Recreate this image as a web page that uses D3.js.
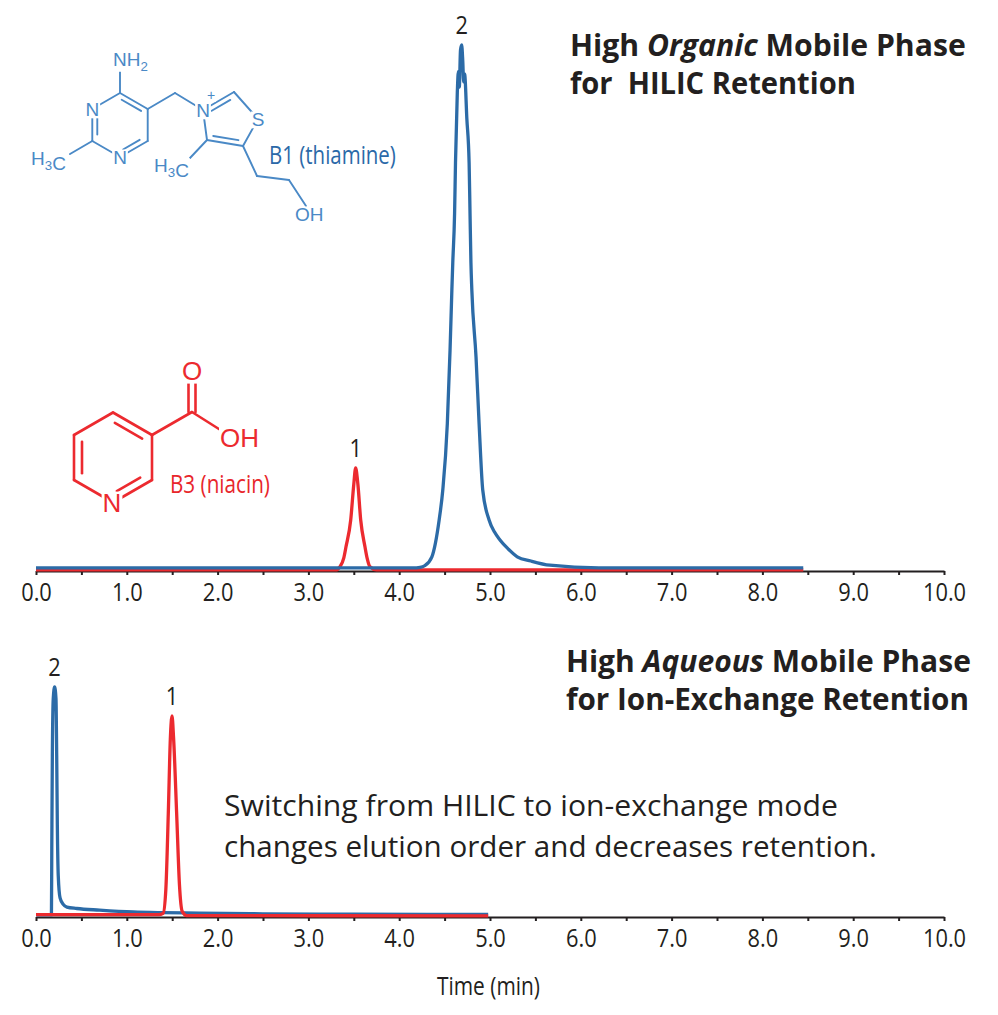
<!DOCTYPE html>
<html>
<head>
<meta charset="utf-8">
<script src="https://cdn.jsdelivr.net/npm/d3@7"></script>
<style>
  body { margin: 0; background: #fff; }
  svg { display: block; font-family: 'Open Sans', sans-serif; }
  .pre { white-space: pre; }
  .atom { font-family: 'Liberation Sans', Arial, sans-serif; }
</style>
</head>
<body>
<script>
// time axis
const halfTicks = [0, 0.5, 1, 1.5, 2, 2.5, 3, 3.5, 4, 4.5, 5, 5.5, 6, 6.5, 7, 7.5, 8, 8.5, 9, 9.5, 10];
const tickLabels = ['0.0', '1.0', '2.0', '3.0', '4.0', '5.0', '6.0', '7.0', '8.0', '9.0', '10.0'];

// high organic run: [time (min), signal (% of tallest peak)]
const organicB1 = [
  [0.00, 0.6], [4.15, 0.6], [4.23, 0.7], [4.28, 1.0], [4.36, 2.7], [4.44, 9.7], [4.48, 15.4],
  [4.53, 28], [4.56, 42], [4.58, 53.4], [4.59, 58.6], [4.61, 68], [4.62, 77.6], [4.64, 91],
  [4.652, 95], [4.662, 92], [4.675, 99], [4.688, 100], [4.70, 97], [4.71, 93], [4.72, 94.5],
  [4.745, 86], [4.77, 77.6], [4.78, 68], [4.79, 58.6], [4.80, 53.4], [4.846, 40.7], [4.88, 28],
  [4.92, 15.4], [4.99, 9.7], [5.05, 7.4], [5.11, 5.9], [5.20, 4.2], [5.30, 2.7], [5.45, 1.9],
  [5.66, 1.1], [6.20, 0.6], [8.45, 0.6]
];
const organicB3 = [
  [0.00, 0.2], [3.30, 0.2], [3.348, 0.8], [3.39, 2.5], [3.414, 4.6], [3.466, 9.7], [3.50, 16.5],
  [3.52, 19.6], [3.545, 16.5], [3.576, 9.7], [3.623, 4.6], [3.65, 2.2], [3.678, 0.8], [3.75, 0.2],
  [8.45, 0.2]
];

// high aqueous run
const aqueousB1 = [
  [0.00, 0.9], [0.170, 0.9], [0.174, 30], [0.18, 70], [0.19, 95], [0.205, 100], [0.22, 95],
  [0.228, 70], [0.235, 40], [0.245, 18], [0.265, 8.3], [0.30, 5.5], [0.34, 4.3], [0.45, 3.7],
  [0.70, 3.0], [1.07, 2.2], [1.40, 1.9], [1.80, 1.7], [2.50, 1.4], [3.50, 1.2], [4.98, 1.1]
];
const aqueousB3 = [
  [0.00, 1.0], [1.35, 1.0], [1.40, 1.6], [1.43, 12], [1.457, 45], [1.48, 78], [1.498, 87.4],
  [1.515, 78], [1.549, 45], [1.58, 14], [1.61, 2.5], [1.66, 0.6], [4.98, 0.5]
];

const peakNames = { b3: '1', b1: '2' };

const blue = '#2c6ba7';
const red = '#ec2a2f';
const ink = '#231f20';
const sx = 0.84;

const width = 998;
const height = 1015;

const svg = d3.select('body').append('svg')
  .attr('width', width)
  .attr('height', height);

const x = d3.scaleLinear().domain([0, 10]).range([36, 944]);

const fitText = (sel, px, py, w) => {
  const len = sel.node().getComputedTextLength();
  sel.attr('transform', `translate(${px},${py}) scale(${w / len},1)`);
};

const drawPanel = (b1, b3, base, top, b1OnTop) => {
  const y = d3.scaleLinear().domain([0, 100]).range([base, top]);
  const g = svg.append('g');

  const axis = d3.axisBottom(x)
    .tickValues(halfTicks)
    .tickSize(4)
    .tickSizeOuter(0)
    .tickPadding(8)
    .tickFormat(d => Number.isInteger(d) ? tickLabels[d] : '');

  const ax = g.append('g')
    .attr('transform', `translate(0,${base})`)
    .call(axis);
  ax.select('.domain').attr('stroke', ink).attr('stroke-width', 2);
  ax.selectAll('.tick line').attr('stroke', ink).attr('stroke-width', 2);
  ax.selectAll('.tick text')
    .attr('fill', ink)
    .attr('font-size', 26)
    .attr('font-family', 'Open Sans, sans-serif')
    .attr('transform', `scale(${sx},1)`);

  const line = d3.line()
    .x(d => x(d[0]))
    .y(d => y(d[1]))
    .curve(d3.curveMonotoneX);

  const series = [
    { key: 'b3', data: b3, color: red },
    { key: 'b1', data: b1, color: blue }
  ];
  if (!b1OnTop) series.reverse();

  g.selectAll('path.trace')
    .data(series)
    .join('path')
      .attr('class', 'trace')
      .attr('d', d => line(d.data))
      .attr('fill', 'none')
      .attr('stroke', d => d.color)
      .attr('stroke-width', 3.3)
      .attr('stroke-linejoin', 'round');

  series.forEach(s => {
    const peak = d3.greatest(s.data, d => d[1]);
    g.append('text')
      .attr('text-anchor', 'middle')
      .attr('font-size', 26)
      .attr('fill', ink)
      .attr('transform', `translate(${x(peak[0])},${y(peak[1]) - 11}) scale(${sx},1)`)
      .text(peakNames[s.key]);
  });
};

const titleBlock = (lines, px, baselines, widths) => {
  lines.forEach((parts, i) => {
    const t = svg.append('text')
      .attr('class', 'pre')
      .attr('font-size', 30)
      .attr('font-weight', 700)
      .attr('fill', ink);
    parts.forEach(p => {
      t.append('tspan')
        .attr('font-style', p.italic ? 'italic' : 'normal')
        .text(p.text);
    });
    fitText(t, px, baselines[i], widths[i]);
  });
};

const render = () => {
  drawPanel(organicB1, organicB3, 571, 45, true);
  drawPanel(aqueousB1, aqueousB3, 917, 687, false);

  titleBlock(
    [[{ text: 'High ' }, { text: 'Organic', italic: true }, { text: ' Mobile Phase' }],
     [{ text: 'for  HILIC Retention' }]],
    570, [56, 94], [396, 286]
  );
  titleBlock(
    [[{ text: 'High ' }, { text: 'Aqueous', italic: true }, { text: ' Mobile Phase' }],
     [{ text: 'for Ion-Exchange Retention' }]],
    566, [672, 710], [405, 403]
  );

  const note = ['Switching from HILIC to ion-exchange mode', 'changes elution order and decreases retention.'];
  const noteW = [614, 653];
  note.forEach((s, i) => {
    const t = svg.append('text')
      .attr('font-size', 30)
      .attr('fill', ink)
      .text(s);
    fitText(t, 224, [816, 857][i], noteW[i]);
  });

  const xl = svg.append('text')
    .attr('font-size', 26)
    .attr('fill', ink)
    .text('Time (min)');
  fitText(xl, 437, 995, 103);

  drawThiamine();
  drawNiacin();
};

// ---------- structures ----------
const bond = (g, a, b, color, w) => {
  g.append('line')
    .attr('x1', a[0]).attr('y1', a[1]).attr('x2', b[0]).attr('y2', b[1])
    .attr('stroke', color).attr('stroke-width', w).attr('stroke-linecap', 'round');
};

const innerBond = (g, a, b, c, off, shrink, color, w) => {
  const dx = b[0] - a[0], dy = b[1] - a[1];
  const len = Math.hypot(dx, dy);
  let nx = -dy / len, ny = dx / len;
  const mx = (a[0] + b[0]) / 2, my = (a[1] + b[1]) / 2;
  if ((c[0] - mx) * nx + (c[1] - my) * ny < 0) { nx = -nx; ny = -ny; }
  const p = [a[0] + dx * shrink + nx * off, a[1] + dy * shrink + ny * off];
  const q = [b[0] - dx * shrink + nx * off, b[1] - dy * shrink + ny * off];
  bond(g, p, q, color, w);
};

const label = (g, px, py, parts, size, color, anchor) => {
  const t = g.append('text')
    .attr('class', 'atom')
    .attr('x', px).attr('y', py)
    .attr('font-size', size)
    .attr('fill', color)
    .attr('text-anchor', anchor || 'middle');
  parts.forEach(p => {
    if (p.sub) {
      t.append('tspan').attr('font-size', size * 0.7).attr('dy', size * 0.25).text(p.sub);
      t.append('tspan').attr('dy', -size * 0.25).text('');
    } else if (p.sup) {
      t.append('tspan').attr('font-size', size * 0.7).attr('dy', -size * 0.45).text(p.sup);
      t.append('tspan').attr('dy', size * 0.45).text('');
    } else {
      t.append('tspan').text(p.t);
    }
  });
  const bb = t.node().getBBox();
  g.insert('rect', () => t.node())
    .attr('x', bb.x - 1).attr('y', bb.y + bb.height * 0.12)
    .attr('width', bb.width + 2).attr('height', bb.height * 0.8)
    .attr('fill', '#fff');
  return t;
};

const drawThiamine = () => {
  const c = '#4a89c6';
  const w = 1.9;
  const g = svg.append('g');
  const cx = 120, cy = 125, r = 32, h = r * Math.sqrt(3) / 2;
  const v = [[cx, cy - r], [cx + h, cy - r / 2], [cx + h, cy + r / 2], [cx, cy + r], [cx - h, cy + r / 2], [cx - h, cy - r / 2]];
  for (let i = 0; i < 6; i++) bond(g, v[i], v[(i + 1) % 6], c, w);
  innerBond(g, v[5], v[4], [cx, cy], 5, 0.2, c, w);
  innerBond(g, v[0], v[1], [cx, cy], 5, 0.15, c, w);
  innerBond(g, v[2], v[3], [cx, cy], 5, 0.2, c, w);
  bond(g, v[0], [cx, 68], c, w);
  bond(g, v[4], [70, 154], c, w);
  const ch2 = [175, 93];
  const nP = [203, 110], c2 = [234, 92], s = [258, 119], c5 = [243, 146], c4 = [207, 140];
  bond(g, v[1], ch2, c, w);
  bond(g, ch2, nP, c, w);
  const ring = [nP, c2, s, c5, c4];
  const rc = [229, 121];
  for (let i = 0; i < 5; i++) bond(g, ring[i], ring[(i + 1) % 5], c, w);
  innerBond(g, nP, c2, rc, 5, 0.2, c, w);
  innerBond(g, c4, c5, rc, 5, 0.15, c, w);
  bond(g, c4, [190, 158], c, w);
  bond(g, c5, [257, 176], c, w);
  bond(g, [257, 176], [289, 180], c, w);
  bond(g, [289, 180], [306, 206], c, w);

  label(g, v[5][0], v[5][1] + 7, [{ t: 'N' }], 19, c);
  label(g, v[3][0], v[3][1] + 7, [{ t: 'N' }], 19, c);
  label(g, 113, 66, [{ t: 'NH' }, { sub: '2' }], 19, c, 'start');
  label(g, 31, 165, [{ t: 'H' }, { sub: '3' }, { t: 'C' }], 19, c, 'start');
  label(g, nP[0], nP[1] + 7, [{ t: 'N' }], 19, c);
  label(g, nP[0] + 8, nP[1] - 10, [{ t: '+' }], 14, c);
  label(g, s[0], s[1] + 7, [{ t: 'S' }], 19, c);
  label(g, 154, 172, [{ t: 'H' }, { sub: '3' }, { t: 'C' }], 19, c, 'start');
  label(g, 295, 221, [{ t: 'OH' }], 19, c, 'start');

  const name = svg.append('text')
    .attr('font-size', 26)
    .attr('fill', '#2b69a8')
    .text('B1 (thiamine)');
  fitText(name, 269, 164, 127);
};

const drawNiacin = () => {
  const c = red;
  const w = 2.6;
  const g = svg.append('g');
  const cx = 113, cy = 457.5, r = 45, h = 39;
  const v = [[cx, cy - r], [cx + h, cy - r / 2], [cx + h, cy + r / 2], [cx, cy + r], [cx - h, cy + r / 2], [cx - h, cy - r / 2]];
  for (let i = 0; i < 6; i++) bond(g, v[i], v[(i + 1) % 6], c, w);
  innerBond(g, v[0], v[1], [cx, cy], 8, 0.15, c, w);
  innerBond(g, v[5], v[4], [cx, cy], 8, 0.15, c, w);
  innerBond(g, v[2], v[3], [cx, cy], 8, 0.2, c, w);
  const cc = [192, 412];
  bond(g, v[1], cc, c, w);
  bond(g, [cc[0] - 3.5, cc[1]], [cc[0] - 3.5, 380], c, w);
  bond(g, [cc[0] + 3.5, cc[1]], [cc[0] + 3.5, 380], c, w);
  bond(g, cc, [230, 436], c, w);
  label(g, v[3][0] - 1, 512, [{ t: 'N' }], 26, c);
  label(g, 192, 380, [{ t: 'O' }], 26, c);
  label(g, 220, 447, [{ t: 'OH' }], 26, c, 'start');

  const name = svg.append('text')
    .attr('font-size', 25)
    .attr('fill', '#e8262b')
    .text('B3 (niacin)');
  fitText(name, 170, 493, 100);
};

document.fonts.ready.then(render);
</script>
</body>
</html>
